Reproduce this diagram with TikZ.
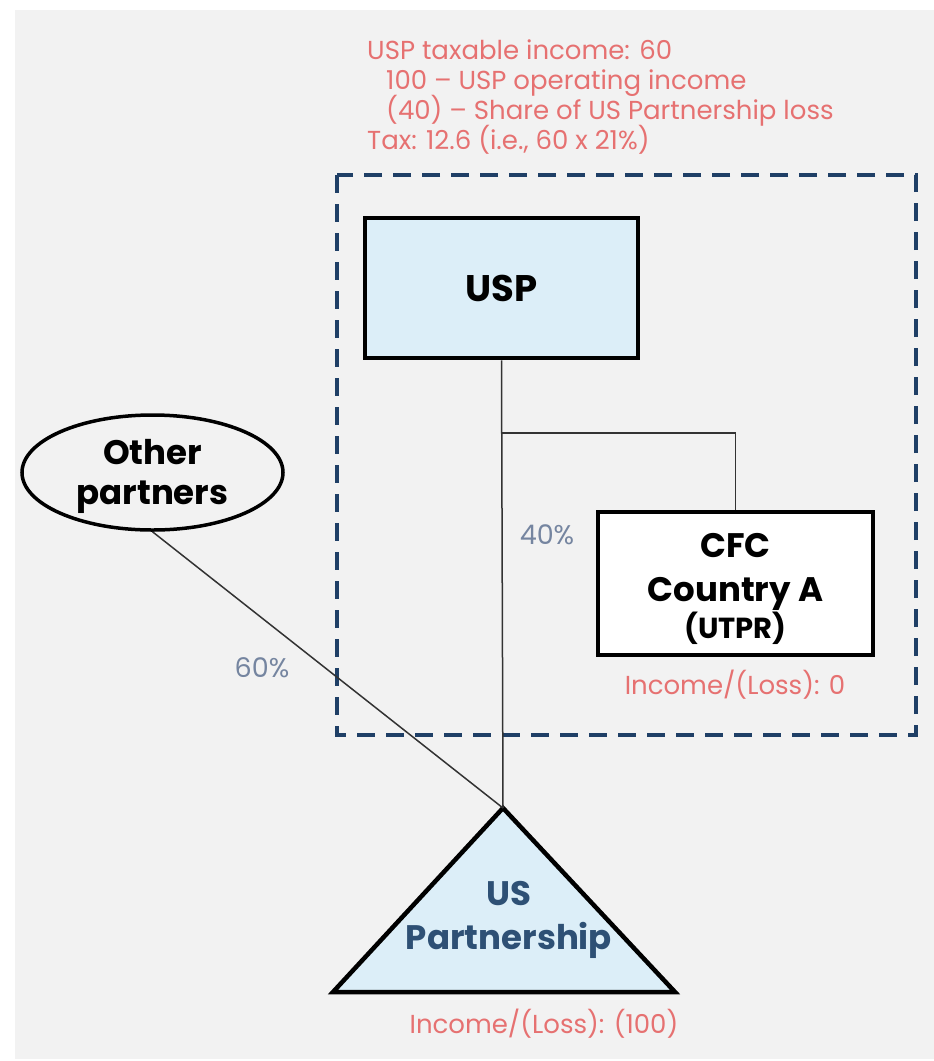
\documentclass[tikz,border=0pt]{standalone}
\usepackage{fontspec}
\setmainfont{Poppins}
\usetikzlibrary{shapes.geometric}
\definecolor{bgc}{HTML}{F2F2F2}
\definecolor{redt}{HTML}{E67171}
\definecolor{pctc}{HTML}{7585A0}
\definecolor{navy}{HTML}{1F3F66}
\definecolor{bluet}{HTML}{2E5075}
\definecolor{lblue}{HTML}{DCEEF8}
\definecolor{linec}{HTML}{333333}
\tikzset{
  entbox/.style={draw=black, line width=4.5pt, rectangle, inner sep=0pt},
  boldtxt/.style={font=\bfseries\fontsize{34}{42}\selectfont, align=center, inner sep=0pt},
  redtxt/.style={text=redt, font=\fontsize{26}{30}\selectfont, inner sep=0pt},
  pcttxt/.style={text=pctc, font=\fontsize{27}{30}\selectfont, inner sep=0pt},
  conn/.style={draw=linec, line width=1.5pt},
}
\begin{document}
\begin{tikzpicture}[x=1pt,y=-1pt]
\useasboundingbox (0,0) rectangle (934,1061);
\fill[bgc] (15,10) rectangle (934,1059);
% dashed group
\draw[navy, line width=3.5pt, dash pattern=on 18pt off 11pt] (337,175) rectangle (916,735);
% notes
\node[redtxt, anchor=mid west] (t1) at (367,57) {USP taxable income: 60};
\node[redtxt, anchor=mid west] (t2) at (386,87) {100 – USP operating income};
\node[redtxt, anchor=mid west] (t3) at (386,117) {(40) – Share of US Partnership loss};
\node[redtxt, anchor=mid west] (t4) at (367,147) {Tax: 12.6 (i.e., 60 x 21\%)};
% entities
\node[entbox, fill=lblue, minimum width=273pt, minimum height=140pt, boldtxt, font=\bfseries\fontsize{37}{42}\selectfont] (usp) at (501.5,288) {USP};
\node[entbox, fill=white, minimum width=275pt, minimum height=143pt] (cfc) at (735.5,583.5) {};
\node[boldtxt, font=\bfseries\fontsize{34}{44}\selectfont] (cfctxt) at (735.5,589)
  {CFC\\Country A\\[-7pt]{\fontsize{29}{36}\selectfont (UTPR)}};
\node[draw=black, line width=3.5pt, ellipse, minimum width=261pt, minimum height=115pt, inner sep=0pt] (other) at (152.5,472.5) {};
\node[boldtxt, font=\bfseries\fontsize{34}{40}\selectfont] (othertxt) at (152.5,476.5) {Other\\partners};
% partnership triangle
\coordinate (apex) at (503,808);
\coordinate (bl) at (333,992);
\coordinate (brr) at (675,992);
\draw[fill=lblue, line width=4.5pt, line join=miter] (apex) -- (bl) -- (brr) -- cycle;
\node[boldtxt, text=bluet, font=\bfseries\fontsize{34}{44}\selectfont] (uspart) at (509,920) {US\\Partnership};
% connectors
\coordinate (br) at (usp.south |- 0,433);
\draw[conn] (usp.south) -- (apex);
\draw[conn] (br) -| (cfc.north);
\draw[conn] (other.south) -- (apex);
% labels
\node[pcttxt] (p40) at (547,535) {40\%};
\node[pcttxt] (p60) at (262,668) {60\%};
\node[redtxt] (cfcinc) at (735,685) {Income/(Loss): 0};
\node[redtxt] (partinc) at (544,1024) {Income/(Loss): (100)};
\end{tikzpicture}
\end{document}
